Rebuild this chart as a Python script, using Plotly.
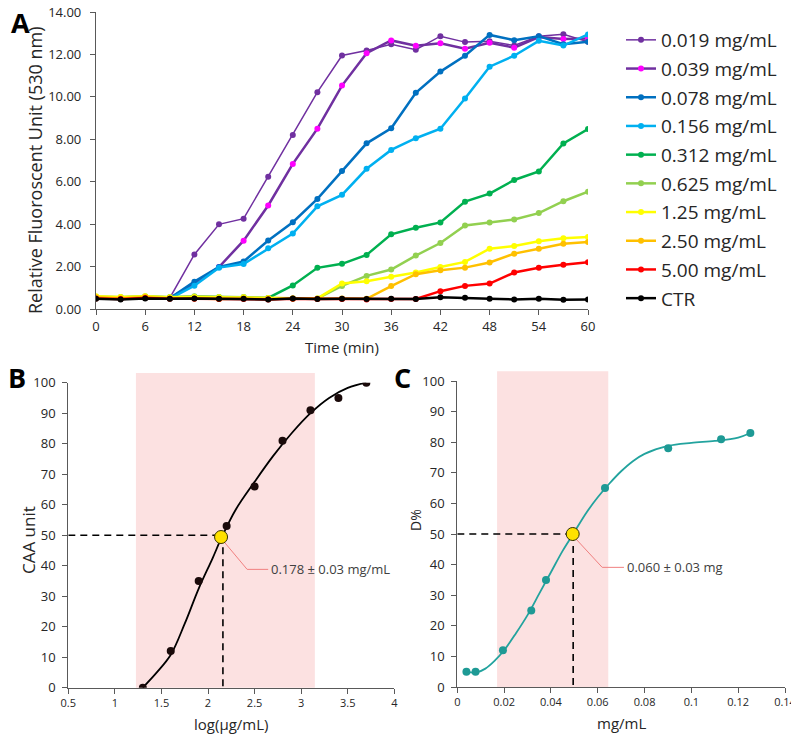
import plotly.graph_objects as go

# ---- panel A: fluorescence vs time ----
time_min = list(range(0, 61, 3))

conc_labels = ["0.019 mg/mL", "0.039 mg/mL", "0.078 mg/mL", "0.156 mg/mL", "0.312 mg/mL",
               "0.625 mg/mL", "1.25 mg/mL", "2.50 mg/mL", "5.00 mg/mL", "CTR"]

rfu_0019 = [0.55, 0.52, 0.57, 0.52, 2.57, 3.99, 4.26, 6.23, 8.20, 10.22, 11.95,
            12.19, 12.48, 12.22, 12.86, 12.58, 12.62, 12.42, 12.86, 12.95, 12.60]
rfu_0039 = [0.55, 0.52, 0.57, 0.52, 1.20, 1.98, 3.22, 4.88, 6.84, 8.50, 10.53,
            12.06, 12.66, 12.41, 12.53, 12.27, 12.55, 12.32, 12.82, 12.73, 12.75]
rfu_0078 = [0.52, 0.50, 0.55, 0.50, 1.29, 1.98, 2.24, 3.23, 4.09, 5.19, 6.50,
            7.81, 8.52, 10.19, 11.19, 11.94, 12.92, 12.67, 12.86, 12.48, 12.60]
rfu_0156 = [0.52, 0.50, 0.52, 0.48, 1.10, 1.95, 2.12, 2.86, 3.56, 4.84, 5.38,
            6.61, 7.50, 8.05, 8.50, 9.92, 11.42, 11.94, 12.64, 12.42, 12.94]
rfu_0312 = [0.57, 0.55, 0.58, 0.55, 0.58, 0.55, 0.55, 0.52, 1.11, 1.94, 2.13,
            2.55, 3.52, 3.83, 4.08, 5.06, 5.44, 6.08, 6.48, 7.80, 8.48]
rfu_0625 = [0.58, 0.55, 0.60, 0.55, 0.60, 0.57, 0.57, 0.52, 0.50, 0.50, 1.09,
            1.56, 1.86, 2.52, 3.11, 3.94, 4.08, 4.22, 4.52, 5.08, 5.53]
rfu_125 = [0.60, 0.57, 0.60, 0.55, 0.57, 0.55, 0.55, 0.52, 0.50, 0.50, 1.20,
           1.31, 1.52, 1.72, 1.98, 2.22, 2.84, 2.97, 3.19, 3.34, 3.39]
rfu_250 = [0.55, 0.50, 0.57, 0.50, 0.50, 0.47, 0.50, 0.47, 0.50, 0.48, 0.50,
           0.48, 1.08, 1.64, 1.83, 1.95, 2.19, 2.61, 2.84, 3.08, 3.16]
rfu_500 = [0.50, 0.47, 0.52, 0.48, 0.48, 0.47, 0.47, 0.45, 0.48, 0.47, 0.47,
           0.45, 0.47, 0.47, 0.84, 1.09, 1.20, 1.72, 1.94, 2.09, 2.20]
rfu_ctr = [0.48, 0.45, 0.50, 0.48, 0.50, 0.48, 0.48, 0.45, 0.50, 0.47, 0.48,
           0.47, 0.48, 0.47, 0.55, 0.53, 0.48, 0.45, 0.48, 0.44, 0.45]

# ---- panel B: CAA unit vs log concentration ----
b_logc = [1.3, 1.6, 1.9, 2.2, 2.5, 2.8, 3.1, 3.4, 3.7]
b_caa = [0, 12, 35, 53, 66, 81, 91, 95, 100]
b_fit_x = [1.30, 1.45, 1.60, 1.75, 1.90, 2.05, 2.15, 2.30, 2.50, 2.70, 2.90, 3.10, 3.30, 3.50, 3.70]
b_fit_y = [0, 5, 10.8, 21, 32.5, 42.5, 49.5, 58.5, 67.5, 76, 83.5, 90, 95, 98.3, 100]
b_ic50 = (2.16, 50)
b_band = (1.226, 3.147)
b_label = "0.178 ± 0.03 mg/mL"

# ---- panel C: D% vs concentration ----
c_conc = [0.0039, 0.0078, 0.0195, 0.0316, 0.0379, 0.0631, 0.0901, 0.1127, 0.1252]
c_d = [5, 5, 12, 25, 35, 65, 78, 81, 83]
c_fit_x = [0.0039, 0.008, 0.012, 0.016, 0.020, 0.025, 0.030, 0.035, 0.040, 0.045, 0.0495,
           0.055, 0.060, 0.065, 0.070, 0.075, 0.080, 0.090, 0.100, 0.110, 0.120, 0.1252]
c_fit_y = [5, 4.7, 6, 8.6, 12, 17.5, 23.5, 30.5, 37.5, 44.5, 50,
           56.8, 62, 66.5, 70.5, 73.8, 76.2, 78.8, 79.8, 80.4, 81.5, 83]
c_ic50 = (0.0495, 50)
c_band = (0.017, 0.0645)
c_label = "0.060 ± 0.03 mg"

FONT = "Open Sans"
TXT = "#262626"
AX = "#595959"

# page body has an 8px margin, so the figure is 8px smaller and shifted
OFF = 8
W, H = 799 - OFF, 735 - OFF


def fx(p):
    return (p - OFF) / W


def fy(p):
    return 1 - (p - OFF) / H


colors = ["#7030A0", "#7030A0", "#0070C0", "#00B0F0", "#00B050",
          "#92D050", "#FFFF00", "#FFC000", "#FF0000", "#000000"]
marker_colors = ["#7030A0", "#FF00FF", "#0070C0", "#00B0F0", "#00B050",
                 "#92D050", "#FFFF00", "#FFC000", "#FF0000", "#000000"]
widths = [1.5, 2.5, 2.5, 2.5, 2.5, 2.5, 2.5, 2.5, 2.5, 2.5]
series = [rfu_0019, rfu_0039, rfu_0078, rfu_0156, rfu_0312,
          rfu_0625, rfu_125, rfu_250, rfu_500, rfu_ctr]

fig = go.Figure()
for i, (name, vals) in enumerate(zip(conc_labels, series)):
    fig.add_trace(go.Scatter(
        x=time_min, y=vals, name=name, mode="lines+markers",
        line=dict(color=colors[i], width=widths[i]),
        marker=dict(color=marker_colors[i], size=6),
        legendgroup=name, xaxis="x", yaxis="y"))

# panel B
fig.add_trace(go.Scatter(x=b_fit_x, y=b_fit_y, mode="lines", line=dict(color="#000000", width=1.8, shape="spline"),
                         showlegend=False, xaxis="x2", yaxis="y2"))
fig.add_trace(go.Scatter(x=b_logc, y=b_caa, mode="markers", marker=dict(color="#1a0a0a", size=8),
                         showlegend=False, xaxis="x2", yaxis="y2"))
fig.add_trace(go.Scatter(x=[b_ic50[0] - 0.02], y=[b_ic50[1] - 0.6], mode="markers",
                         marker=dict(color="#FFE100", size=13, line=dict(color="#333300", width=1)),
                         showlegend=False, xaxis="x2", yaxis="y2"))

# panel C
fig.add_trace(go.Scatter(x=c_fit_x, y=c_fit_y, mode="lines", line=dict(color="#22A39E", width=1.8, shape="spline"),
                         showlegend=False, xaxis="x3", yaxis="y3"))
fig.add_trace(go.Scatter(x=c_conc, y=c_d, mode="markers", marker=dict(color="#1E9A95", size=8),
                         showlegend=False, xaxis="x3", yaxis="y3"))
fig.add_trace(go.Scatter(x=[c_ic50[0] - 0.0002], y=[c_ic50[1]], mode="markers",
                         marker=dict(color="#FFE100", size=13, line=dict(color="#333300", width=1)),
                         showlegend=False, xaxis="x3", yaxis="y3"))

shapes = []
for xr, yr, band, ic, xmin in [("x2", "y2", b_band, b_ic50, 0.5), ("x3", "y3", c_band, c_ic50, 0)]:
    shapes.append(dict(type="rect", xref=xr, yref=yr + " domain", x0=band[0], x1=band[1], y0=0, y1=1.032,
                       fillcolor="#FCE1E1", line=dict(width=0), layer="below"))
    shapes.append(dict(type="line", xref=xr, yref=yr, x0=xmin, x1=ic[0], y0=ic[1], y1=ic[1],
                       line=dict(color="#000000", width=1.6, dash="7px,5px"), layer="below"))
    shapes.append(dict(type="line", xref=xr, yref=yr, x0=ic[0], x1=ic[0], y0=ic[1], y1=0,
                       line=dict(color="#000000", width=1.6, dash="7px,5px"), layer="below"))

# leader lines for the IC50 labels
shapes.append(dict(type="path", xref="x2", yref="y2", path="M 2.157,48.4 L 2.42,38.8 L 2.646,38.8",
                   line=dict(color="#F08080", width=1), layer="below"))
shapes.append(dict(type="path", xref="x3", yref="y3", path="M 0.0503,48.7 L 0.0619,39.1 L 0.0712,39.1",
                   line=dict(color="#F08080", width=1), layer="below"))


def paper_text(text, px, py, size, angle=0, bold=False):
    return dict(text="<b>%s</b>" % text if bold else text, x=fx(px), y=fy(py),
                xref="paper", yref="paper", xanchor="center", yanchor="middle",
                textangle=angle, showarrow=False,
                font=dict(size=size, family=FONT, color="#000" if bold else TXT))


annotations = [
    paper_text("A", 21, 23, 27, bold=True),
    paper_text("B", 17, 378, 27, bold=True),
    paper_text("C", 402, 378, 27, bold=True),
    paper_text("Relative Fluoroscent Unit (530 nm)", 35, 170, 18, angle=-90),
    paper_text("Time (min)", 342, 347, 15),
    paper_text("CAA unit", 28, 540, 17, angle=-90),
    paper_text("log(μg/mL)", 231, 724, 15),
    paper_text("D%", 415, 520, 14, angle=-90),
    paper_text("mg/mL", 621, 723, 15),
    dict(text=b_label, x=2.66, y=38.8, xref="x2", yref="y2", xanchor="left", yanchor="middle",
         showarrow=False, font=dict(size=13, family=FONT, color="#404040")),
    dict(text=c_label, x=0.0718, y=39.1, xref="x3", yref="y3", xanchor="left", yanchor="middle",
         showarrow=False, font=dict(size=13, family=FONT, color="#404040")),
]

axis_common = dict(showline=True, linecolor=AX, linewidth=1.2, ticks="outside", ticklen=5,
                   tickcolor=AX, showgrid=False, zeroline=False, color=TXT,
                   ticklabeloverflow="allow")

fig.update_layout(
    width=W, height=H, margin=dict(l=0, r=0, t=0, b=0, autoexpand=False),
    paper_bgcolor="white", plot_bgcolor="rgba(0,0,0,0)",
    font=dict(family=FONT, color=TXT),
    showlegend=True,
    legend=dict(x=fx(621), y=fy(21), xanchor="left", yanchor="top",
                font=dict(size=19, family=FONT, color=TXT), traceorder="grouped",
                tracegroupgap=1, bgcolor="rgba(0,0,0,0)"),
    xaxis=dict(domain=[fx(96), fx(588)], range=[0, 60], dtick=6, anchor="y",
               tickfont=dict(size=13), **axis_common),
    yaxis=dict(domain=[fy(309), fy(12)], range=[0, 14], dtick=2, tickformat=".2f",
               anchor="x", tickfont=dict(size=13), ticklabelstandoff=6, **axis_common),
    xaxis2=dict(domain=[fx(68.3), fx(394.3)], range=[0.5, 4], dtick=0.5, anchor="y2",
                tickfont=dict(size=11), **axis_common),
    yaxis2=dict(domain=[fy(687.7), fy(382.7)], range=[0, 100], dtick=10, anchor="x2",
                tickfont=dict(size=13), ticklabelstandoff=4, **axis_common),
    xaxis3=dict(domain=[fx(457.3), fx(785)], range=[0, 0.14], dtick=0.02, anchor="y3",
                tickfont=dict(size=11), **axis_common),
    yaxis3=dict(domain=[fy(687), fy(381)], range=[0, 100], dtick=10, anchor="x3",
                tickfont=dict(size=13), ticklabelstandoff=4, **axis_common),
    shapes=shapes,
    annotations=annotations,
)

fig.write_html("out.html")
